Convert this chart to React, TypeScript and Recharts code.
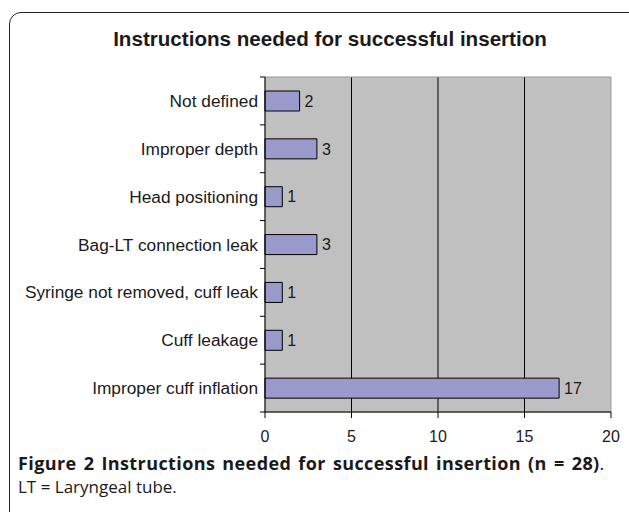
import {
    Bar,
    BarChart,
    CartesianGrid,
    LabelList,
    ReferenceArea,
    XAxis,
    YAxis,
} from "recharts";

const categories = [
    "Not defined",
    "Improper depth",
    "Head positioning",
    "Bag-LT connection leak",
    "Syringe not removed, cuff leak",
    "Cuff leakage",
    "Improper cuff inflation",
];
const counts = [2, 3, 1, 3, 1, 1, 17];
const xTicks = [0, 5, 10, 15, 20];
const gridValues = [5, 10, 15];

const data = categories.map((name, i) => ({ name, count: counts[i] }));

const W = 629;
const H = 450;
const PLOT_TOP = 77;
const X_AXIS_H = 30;
const MARGIN_BOTTOM = 8;
const PLOT_H = H - PLOT_TOP - X_AXIS_H - MARGIN_BOTTOM;
const BAND = PLOT_H / categories.length;
const FONT = "'Liberation Sans', Arial, sans-serif";

// category label at band centre, Excel-style tick mark at the band edge
function CategoryTick(props: any) {
    const { x, y, payload, index } = props;
    const isLast = index === categories.length - 1;
    return (
        <g>
            <line x1={x - 5} x2={x} y1={y - BAND / 2} y2={y - BAND / 2} stroke="#000" />
            {isLast && (
                <line x1={x - 5} x2={x} y1={y + BAND / 2} y2={y + BAND / 2} stroke="#000" />
            )}
            <text
                x={x - 7}
                y={y}
                dy={6}
                textAnchor="end"
                fill="#1a1a1a"
                fontSize={17.3}
                fontFamily={FONT}
            >
                {payload.value}
            </text>
        </g>
    );
}

export default function App() {
    return (
        <div
            style={{
                position: "absolute",
                left: 0,
                top: 0,
                width: W,
                height: 512,
                overflow: "hidden",
                background: "#fff",
            }}
        >
            <div
                style={{
                    position: "absolute",
                    left: 9,
                    top: 12,
                    width: 700,
                    height: 600,
                    border: "1px solid #222",
                    borderTopLeftRadius: 12,
                }}
            />
            <div
                style={{
                    position: "absolute",
                    left: 330,
                    top: 27,
                    transform: "translateX(-50%)",
                    whiteSpace: "nowrap",
                    fontFamily: FONT,
                    fontWeight: "bold",
                    fontSize: 20.6,
                    color: "#1a1a1a",
                }}
            >
                Instructions needed for successful insertion
            </div>
            <div style={{ position: "absolute", left: 0, top: 0 }}>
                <BarChart
                    width={W}
                    height={H}
                    data={data}
                    layout="vertical"
                    margin={{ top: PLOT_TOP, right: 18, left: 0, bottom: MARGIN_BOTTOM }}
                    barSize={20}
                >
                    <CartesianGrid
                        horizontal={false}
                        vertical
                        verticalValues={gridValues}
                        stroke="#000"
                        fill="#c0c0c0"
                        fillOpacity={1}
                    />
                    <ReferenceArea x1={0} x2={20} fill="none" stroke="#999" />
                    <XAxis
                        type="number"
                        domain={[0, 20]}
                        ticks={xTicks}
                        height={X_AXIS_H}
                        axisLine={{ stroke: "#000" }}
                        tickLine={{ stroke: "#000" }}
                        tickSize={6}
                        tickMargin={13}
                        tick={{ fill: "#1a1a1a", fontSize: 16, fontFamily: FONT }}
                    />
                    <YAxis
                        type="category"
                        dataKey="name"
                        width={265}
                        axisLine={{ stroke: "#000" }}
                        tickLine={false}
                        tickSize={0}
                        tickMargin={0}
                        interval={0}
                        tick={<CategoryTick />}
                    />
                    <Bar
                        dataKey="count"
                        fill="#9999cc"
                        stroke="#000"
                        strokeWidth={1}
                        isAnimationActive={false}
                    >
                        <LabelList
                            dataKey="count"
                            position="right"
                            offset={5}
                            fill="#1a1a1a"
                            fontSize={16}
                            fontFamily={FONT}
                        />
                    </Bar>
                </BarChart>
            </div>
            <div
                style={{
                    position: "absolute",
                    left: 18,
                    top: 451,
                    fontFamily: "'Open Sans', sans-serif",
                    fontSize: 17,
                    color: "#1a1a1a",
                    lineHeight: "24px",
                    whiteSpace: "nowrap",
                }}
            >
                <div style={{ fontSize: 18, letterSpacing: 0.4, wordSpacing: 2 }}>
                    <b>Figure 2 Instructions needed for successful insertion (n = 28)</b>.
                </div>
                <div>LT = Laryngeal tube.</div>
            </div>
        </div>
    );
}
